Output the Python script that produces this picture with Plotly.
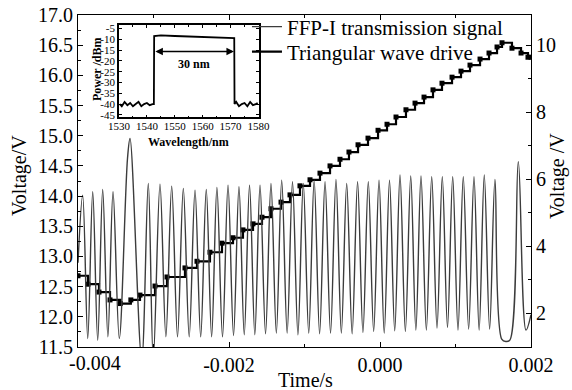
import plotly.graph_objects as go

# ---------------- data ----------------
# FFP-I transmission signal (right axis, V); time in ms
signal_t_ms = [-4.000, -3.938, -3.871, -3.805, -3.739, -3.673, -3.604, -3.536, -3.453, -3.344,
               -3.311, -3.156, -3.069, -3.003, -2.914, -2.836, -2.759, -2.682, -2.605, -2.527,
               -2.450, -2.375, -2.301, -2.230, -2.160, -2.086, -2.013, -1.940, -1.868, -1.798,
               -1.728, -1.658, -1.589, -1.516, -1.444, -1.373, -1.302, -1.230, -1.159, -1.087,
               -1.016, -0.944, -0.872, -0.800, -0.728, -0.655, -0.583, -0.512, -0.441, -0.369,
               -0.297, -0.226, -0.155, -0.084, -0.013, 0.056, 0.126, 0.195, 0.265, 0.336,
               0.407, 0.475, 0.543, 0.614, 0.685, 0.755, 0.825, 0.894, 0.963, 1.033,
               1.103, 1.174, 1.245, 1.313, 1.381, 1.452, 1.523, 1.612, 1.667, 1.722,
               1.832, 1.934, 2.000]
signal_v = [3.5, 5.52, 1.24, 5.62, 1.19, 5.69, 1.29, 5.62, 1.24, 6.63,
            7.21, 0.6, 5.87, 0.6, 5.85, 1.29, 5.79, 1.29, 5.72, 1.29,
            5.67, 1.29, 5.69, 1.29, 5.75, 1.29, 5.82, 1.33, 5.77, 1.35,
            5.82, 1.35, 5.82, 1.38, 5.87, 1.40, 5.97, 1.40, 5.92, 1.35,
            5.87, 1.40, 5.97, 1.38, 5.92, 1.40, 5.99, 1.40, 5.87, 1.38,
            5.92, 1.42, 5.92, 1.45, 5.97, 1.40, 5.97, 1.47, 6.12, 1.45,
            6.09, 1.49, 6.09, 1.49, 6.07, 1.55, 6.07, 1.57, 6.07, 1.49,
            6.07, 1.52, 6.07, 1.49, 6.12, 1.52, 5.99, 1.22, 1.15, 1.20,
            6.52, 1.49, 1.95]

# Triangular wave drive (left axis, V): staircase step starts, time in ms
tri_t_ms = [-4.000, -3.868, -3.722, -3.576, -3.440, -3.300, -3.179, -2.980, -2.821, -2.583,
            -2.424, -2.252, -2.093, -1.947, -1.815, -1.682, -1.563, -1.444, -1.311, -1.192,
            -1.060, -0.927, -0.795, -0.662, -0.530, -0.411, -0.291, -0.159, -0.026, 0.093,
            0.212, 0.344, 0.464, 0.583, 0.702, 0.821, 0.954, 1.073, 1.192, 1.325,
            1.444, 1.550, 1.616, 1.748, 1.868, 1.960, 2.000]
tri_v = [12.68, 12.54, 12.41, 12.28, 12.22, 12.28, 12.36, 12.51, 12.66, 12.81,
         12.92, 13.07, 13.22, 13.31, 13.44, 13.54, 13.65, 13.79, 13.90, 14.02,
         14.17, 14.27, 14.38, 14.50, 14.61, 14.73, 14.85, 14.96, 15.09, 15.19,
         15.31, 15.43, 15.54, 15.64, 15.76, 15.87, 15.97, 16.07, 16.17, 16.27,
         16.37, 16.47, 16.54, 16.45, 16.37, 16.30, 16.30]

# Inset: source spectrum
spec_wl = [1530.3, 1531, 1532, 1533, 1534, 1535, 1536, 1537, 1538, 1539, 1540, 1541, 1542, 1542.5,
           1542.6, 1545, 1550, 1555, 1560, 1565, 1570, 1571.3,
           1571.4, 1572, 1573, 1574, 1575, 1576, 1577, 1578, 1579, 1579.7]
spec_p = [-40, -41, -39, -40.5, -39.5, -41, -40, -39, -41, -40, -39.5, -40.5, -40, -40,
          -8.5, -8.2, -8.5, -8.7, -8.9, -9.2, -9.4, -9.5,
          -40, -39, -41, -40, -39.5, -41, -39, -40.5, -40, -39.5]
arrow_wl = [1542.5, 1571.2]
arrow_p = -15.7

x_ticks = [-0.004, -0.002, 0.000, 0.002]
x_ticktext = ["", "-0.002", "0.000", "0.002"]
x_first_label = "-0.004"
y_ticks = [11.5, 12.0, 12.5, 13.0, 13.5, 14.0, 14.5, 15.0, 15.5, 16.0, 16.5, 17.0]
y2_ticks = [2, 4, 6, 8, 10]
inset_x_ticks = [1530, 1540, 1550, 1560, 1570, 1580]
inset_y_ticks = [-5, -10, -15, -20, -25, -30, -35, -40, -45]
inset_y_ticktext = ["-5", "-10", "-15", "-20", "-25", "-30", "-35", "-40", "-45"]

signal_t = [v / 1000.0 for v in signal_t_ms]
tri_t = [v / 1000.0 for v in tri_t_ms]

FONT = "Liberation Serif"

fig = go.Figure()
fig.add_trace(go.Scatter(x=signal_t, y=signal_v, mode="lines", yaxis="y2", legend="legend",
                         line=dict(color="#3c3c3c", width=1.4, shape="spline", smoothing=1.0),
                         name="FFP-I transmission signal"))
fig.add_trace(go.Scatter(x=tri_t, y=tri_v, mode="lines", yaxis="y", legend="legend2",
                         line=dict(color="black", width=2.2, shape="hv"),
                         name="Triangular wave drive"))
fig.add_trace(go.Scatter(x=tri_t, y=tri_v, mode="markers", yaxis="y", showlegend=False,
                         marker=dict(symbol="square", size=5, color="black")))
fig.add_trace(go.Scatter(x=spec_wl, y=spec_p, mode="lines", xaxis="x3", yaxis="y3",
                         showlegend=False, line=dict(color="black", width=1.8)))

axis_common = dict(showline=True, linecolor="black", linewidth=1.2, showgrid=False,
                   zeroline=False, ticks="inside", tickcolor="black", ticklen=5,
                   tickfont=dict(family=FONT, size=20, color="black"))

legend_common = dict(xanchor="left", yanchor="middle", bgcolor="rgba(0,0,0,0)",
                     font=dict(family=FONT, size=21, color="black"), itemwidth=30)

fig.update_layout(
    width=572, height=390,
    margin=dict(l=78, r=41, t=15, b=43, autoexpand=False),
    paper_bgcolor="white", plot_bgcolor="white",
    font=dict(family=FONT, color="black"),
    xaxis=dict(range=[-0.004, 0.002], tickvals=x_ticks, ticktext=x_ticktext, mirror="ticks",
               automargin=False,
               minor=dict(dtick=0.001, ticks="inside", ticklen=3, tickcolor="black"),
               **axis_common),
    yaxis=dict(range=[11.5, 17.0], tickvals=y_ticks, tickformat=".1f", mirror=False,
               automargin=False,
               minor=dict(dtick=0.25, ticks="inside", ticklen=3, tickcolor="black"),
               **axis_common),
    yaxis2=dict(range=[0.985, 10.9], tickvals=y2_ticks, overlaying="y", side="right",
                automargin=False,
                minor=dict(dtick=1, ticks="inside", ticklen=3, tickcolor="black"),
                **axis_common),
    xaxis3=dict(domain=[0.0905, 0.3985], anchor="y3", range=[1530, 1580],
                tickvals=inset_x_ticks, showline=True, linecolor="black", linewidth=1.5,
                mirror="ticks", ticks="inside", ticklen=3, tickcolor="black",
                showgrid=False, zeroline=False, ticklabelstandoff=-2, automargin=False,
                minor=dict(dtick=5, ticks="inside", ticklen=2, tickcolor="black"),
                tickfont=dict(family=FONT, size=11, color="black")),
    yaxis3=dict(domain=[0.692, 0.970], anchor="x3", range=[-46.1, -3.4],
                tickvals=inset_y_ticks, ticktext=inset_y_ticktext, showline=True,
                linecolor="black", linewidth=1.5, mirror="ticks", ticks="inside",
                ticklen=3, tickcolor="black", showgrid=False, zeroline=False,
                ticklabelstandoff=0, automargin=False,
                tickfont=dict(family=FONT, size=11, color="black")),
    legend=dict(x=0.373, y=(347 - 27) / 332, **legend_common),
    legend2=dict(x=0.373, y=(347 - 52) / 332, **legend_common),
    showlegend=True,
)

ann = [
    dict(text=x_first_label, xref="paper", yref="paper", x=(95 - 78) / 453,
         y=(347 - 363) / 332, showarrow=False, font=dict(family=FONT, size=20),
         xanchor="center", yanchor="middle"),
    dict(text="Time/s", xref="paper", yref="paper", x=(305 - 78) / 453, y=(347 - 380) / 332,
         showarrow=False, font=dict(family=FONT, size=20), xanchor="center", yanchor="middle"),
    dict(text="Voltage/V", xref="paper", yref="paper", x=(19 - 78) / 453, y=(347 - 176) / 332,
         showarrow=False, textangle=-90, font=dict(family=FONT, size=20),
         xanchor="center", yanchor="middle"),
    dict(text="Voltage /V", xref="paper", yref="paper", x=(557 - 78) / 453, y=(347 - 176) / 332,
         showarrow=False, textangle=-90, font=dict(family=FONT, size=20),
         xanchor="center", yanchor="middle"),
    dict(text="<b>Power /dBm</b>", xref="paper", yref="paper", x=(97 - 78) / 453,
         y=(347 - 70) / 332, showarrow=False, textangle=-90, font=dict(family=FONT, size=12),
         xanchor="center", yanchor="middle"),
    dict(text="<b>Wavelength/nm</b>", xref="paper", yref="paper", x=(188 - 78) / 453,
         y=(347 - 142) / 332, showarrow=False, font=dict(family=FONT, size=12),
         xanchor="center", yanchor="middle"),
    dict(text="", xref="x3", yref="y3", x=arrow_wl[1], y=arrow_p, axref="x3", ayref="y3",
         ax=arrow_wl[0], ay=arrow_p, showarrow=True, arrowhead=2, arrowside="end+start",
         arrowsize=1, arrowwidth=1.5, arrowcolor="black"),
    dict(text="<b>30 nm</b>", xref="x3", yref="y3", x=(arrow_wl[0] + arrow_wl[1]) / 2, y=-21.5,
         showarrow=False, font=dict(family=FONT, size=12), xanchor="center", yanchor="middle"),
]
fig.update_layout(annotations=ann)

fig.write_html("out.html")
